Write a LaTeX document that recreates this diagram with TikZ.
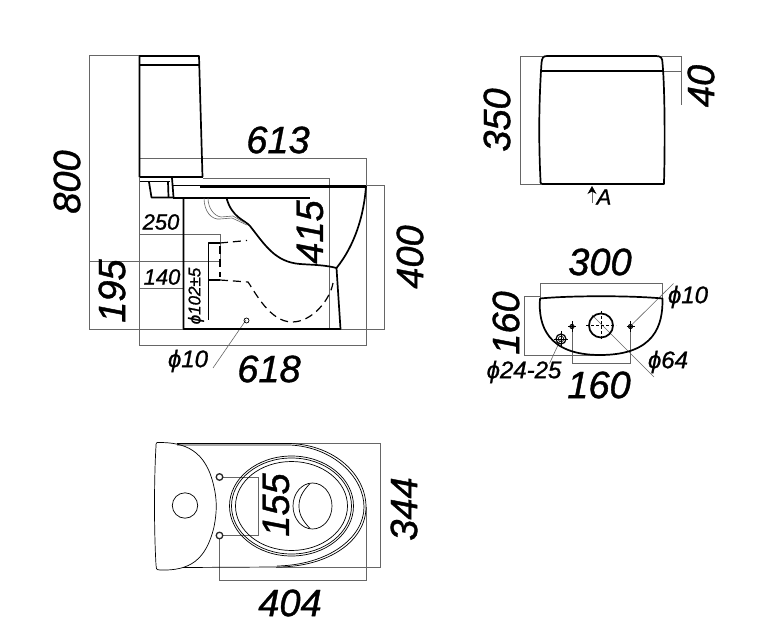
\documentclass[tikz,border=0pt]{standalone}
\usepackage{fontspec}
\setmainfont[ItalicFeatures={FakeBold=1}]{Liberation Sans}
\usetikzlibrary{arrows.meta}
\tikzset{
    dimline/.style={draw=black!60, line width=0.8pt},
    leader/.style={draw=black!60, line width=0.6pt},
    body/.style={draw=black, line width=1.7pt, line join=round},
    heavy/.style={draw=black, line width=2.6pt},
    fine/.style={draw=black, line width=0.7pt},
    hidden/.style={draw=black, line width=1.2pt, dash pattern=on 8pt off 5pt},
    bigdim/.style={font=\fontsize{38}{38}\selectfont\itshape, inner sep=0pt},
    smalldim/.style={font=\fontsize{22}{22}\selectfont\itshape, inner sep=0pt},
    diadim/.style={font=\fontsize{24}{24}\selectfont\itshape, inner sep=0pt},
}
\begin{document}
\begin{tikzpicture}[x=1pt, y=-1pt]
    \useasboundingbox (0,0) rectangle (761,629);

    % Side view: dimension lines
    \draw[dimline] (140,55) -- (89,55) -- (89,329) -- (384,329) -- (384,185.5) -- (366,185.5);
    \draw[dimline] (139,158) rectangle (366,345);
    \draw[dimline] (203,178) -- (329,178) -- (329,329);
    \draw[dimline] (139,234) -- (220,234) -- (220,261) -- (89,261);
    \draw[dimline] (139,288) -- (183,288);
    \draw[leader] (246,320) -- (213,368);

    % Side view: cistern
    \draw[body] (139.5,177) -- (139.5,56) -- (199,56) -- (202.5,177);
    \draw[body] (139.5,65) -- (200,65);
    \draw[body] (140,177) -- (203,177);
    \draw[body] (140,181.5) -- (170,181.5);
    \draw[body] (149,182) -- (151.5,197.5) -- (173,197.5);
    \draw[body] (168,182) -- (168.5,197);
    \draw[body] (172,178) -- (173.5,197);

    % Side view: pan
    \draw[fine] (172,185) -- (202,185);
    \draw[heavy] (200,186.5) -- (366,186.5);
    \draw[body] (173,198) -- (310,198);
    \draw[body] (183.5,198) -- (183.5,329) -- (340.5,329) -- (336.5,268);
    \draw[body] (366,186) .. controls (364,215) and (355,245) .. (336.5,268);
    \draw[body] (226.5,198) .. controls (232,218) and (245,220) .. (250,226)
        .. controls (265,245) and (275,262) .. (300,264)
        .. controls (315,265) and (325,265) .. (336.5,268);
    \draw[leader] (204,198) .. controls (204,212) and (212,220) .. (220,219) -- (232,218) -- (247,225);
    \draw[leader] (208,198) .. controls (208,208) and (214,216) .. (221,217) -- (233,216) -- (245,223);

    % Side view: hidden outlet
    \draw[hidden] (220,243) -- (247,240.5);
    \draw[hidden] (220,246) -- (220,277);
    \draw[hidden] (220,280) -- (248,282) .. controls (255,292) and (270,322) .. (292,322)
        .. controls (312,322) and (330,300) .. (333,283);
    \draw[body, line width=1.3pt] (220,243) -- (208.5,243) -- (208.5,320);
    \draw[body, line width=1.3pt] (208.5,280) -- (220,280);
    \draw[fine] (246.5,320.5) circle (2.5);

    \node[bigdim] (len613) at (278,140) {613};
    \node[bigdim] (len618) at (269,369) {618};
    \node[bigdim, rotate=90] (hgt800) at (67,182) {800};
    \node[bigdim, rotate=90] (hgt415) at (310,232) {415};
    \node[bigdim, rotate=90] (hgt400) at (410,257) {400};
    \node[bigdim, rotate=90] (hgt195) at (112,291) {195};
    \node[smalldim] (hgt250) at (161,222) {250};
    \node[smalldim] (hgt140) at (162,277) {140};
    \node[font=\fontsize{17}{17}\selectfont\itshape, inner sep=0pt, rotate=90] (dia102) at (196,296) {ϕ102±5};
    \node[diadim] (dia10a) at (188,361) {ϕ10};

    % Cistern front
    \draw[dimline] (543,56.5) -- (520,56.5) -- (520,184) -- (541,184);
    \draw[dimline] (660,56.5) -- (681,56.5) -- (681,105);
    \draw[dimline] (662,71) -- (681,71);
    \draw[body] (547,56) -- (656,56) .. controls (661,56) and (662.5,58) .. (662.5,63)
        .. controls (665,90) and (665,150) .. (664,182) -- (664,184) -- (542,184)
        .. controls (540,184) and (540.5,182) .. (540.5,180)
        .. controls (538.5,140) and (539,100) .. (541.5,63)
        .. controls (542,58) and (543,56) .. (547,56);
    \draw[body] (541.5,71) -- (662.5,71);
    \draw[leader, -{Stealth[length=8pt, width=9pt, color=black, fill=black]}] (592,203) -- (592,186);

    \node[bigdim, rotate=90] (dep350) at (497,120) {350};
    \node[bigdim, rotate=90] (dep40) at (701,86) {40};
    \node[smalldim] (markA) at (604,197) {A};

    % Cistern underside
    \draw[dimline] (540,298) -- (540,283.5) -- (662.5,283.5) -- (662.5,298);
    \draw[dimline] (540,296.5) -- (524,296.5) -- (524,355) -- (600,355);
    \draw[dimline] (572,326) -- (572,363.5) -- (630.5,363.5) -- (630.5,326);
    \draw[leader] (630.5,326) -- (673.5,283.5);
    \draw[leader] (592,315) -- (654,377);
    \draw[leader] (561,338.5) -- (549.5,363.5);
    \draw[body] (540,298.5) .. controls (570,295.5) and (632,295.5) .. (662.5,298.5)
        .. controls (663,325) and (655,355) .. (600,355)
        .. controls (547,355) and (538,325) .. (540,298.5);
    \draw[body] (601,325.5) circle (12);
    \draw[fine, densely dashed] (586,325.5) -- (616,325.5);
    \draw[fine, densely dashed] (601,311) -- (601,340);
    \draw[fine, fill=black!70] (572,326.5) circle (2.2);
    \draw[fine, fill=black!70] (630.5,326.5) circle (2.2);
    \draw[fine] (572,321) -- (572,332) (568,326.5) -- (576,326.5);
    \draw[fine] (630.5,321) -- (630.5,332) (626.5,326.5) -- (634.5,326.5);
    \draw[line width=1.2pt] (561,339) circle (5);
    \draw[fine] (561,339) circle (2.8);
    \draw[fine] (561,331) -- (561,347) (554,339) -- (568,339);

    \node[bigdim] (wid300) at (600,262) {300};
    \node[bigdim] (wid160) at (599,385) {160};
    \node[bigdim, rotate=90] (dep160) at (506,323) {160};
    \node[diadim] (dia10b) at (688,297) {ϕ10};
    \node[diadim] (dia64) at (668,362) {ϕ64};
    \node[diadim] (dia24) at (524,372) {ϕ24-25};

    % Top view
    \draw[dimline] (290,443) -- (380,443) -- (380,567.5) -- (276,567.5);
    \draw[dimline] (222,477) -- (258,477) -- (258,535.5) -- (222,535.5);
    \draw[dimline] (219.5,539) -- (219.5,580.5) -- (366,580.5) -- (366,507);
    \draw[fine] (157,442.5) .. controls (185,442) and (206,450) .. (214,487)
        .. controls (217,500) and (217,512) .. (214,527)
        .. controls (206,560) and (190,571) .. (160,570)
        .. controls (156,570) and (156,568) .. (156,565)
        .. controls (154,530) and (154,480) .. (156,446)
        .. controls (156,444) and (156,443) .. (157,442.5);
    \draw[fine] (177,443.5) -- (290,443.5) .. controls (335,445) and (366,475) .. (366,507)
        .. controls (366,540) and (330,567) .. (277,567) -- (183,567.5);
    \draw[fine] (177,445) -- (290,445) .. controls (333,447) and (364,477) .. (364,507)
        .. controls (364,538) and (328,565) .. (277,566);
    \draw[fine] (185,505.5) circle (12.7);
    \draw[fine] (291.5,506) ellipse (62 and 50);
    \draw[fine] (291.5,506) ellipse (60 and 48);
    \draw[fine] (291.5,506) ellipse (56 and 44.5);
    \draw[fine] (312.5,506) ellipse (19.5 and 23);
    \draw[fine] (310,483.5) .. controls (302,492) and (299,498) .. (299,506)
        .. controls (299,514) and (302,520) .. (310,528.5);
    \draw[line width=1.3pt, draw=black!85] (219.5,477) circle (3.3);
    \draw[line width=1.3pt, draw=black!85] (219.5,535.5) circle (3.3);

    \node[bigdim, rotate=90] (gap155) at (276,505) {155};
    \node[bigdim, rotate=90] (wid344) at (404,509) {344};
    \node[bigdim] (len404) at (290,603) {404};

\end{tikzpicture}
\end{document}
